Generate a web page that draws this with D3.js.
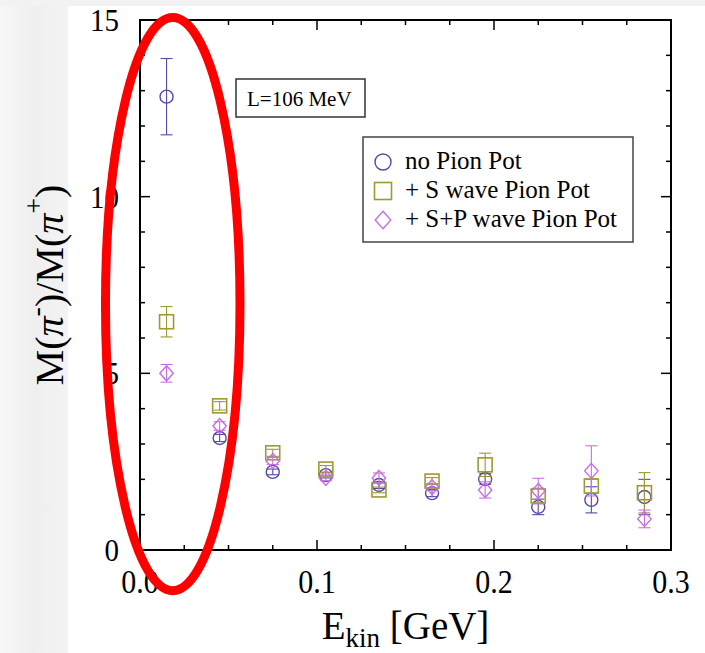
<!DOCTYPE html>
<html>
<head>
<meta charset="utf-8">
<script src="https://cdn.jsdelivr.net/npm/d3@7"></script>
<style>
  html, body { margin: 0; padding: 0; background: #fff; }
  svg { display: block; }
  svg text { font-family: "Liberation Serif", "Times New Roman", serif; }
</style>
</head>
<body>
<svg id="chart" width="705" height="653"></svg>
<script>
// Kinetic-energy bins (GeV)
const ekin = [0.015, 0.045, 0.075, 0.105, 0.135, 0.165, 0.195, 0.225, 0.255, 0.285];

// pi-/pi+ ratio without pion potential
const noPot     = [12.83, 3.17, 2.21, 2.12, 1.84, 1.61, 2.01, 1.22, 1.42, 1.50];
const noPotErr  = [1.08, 0.10, 0.08, 0.08, 0.10, 0.10, 0.15, 0.22, 0.37, 0.50];

// with S-wave pion potential
const sWave     = [6.46, 4.08, 2.75, 2.29, 1.70, 1.95, 2.41, 1.53, 1.81, 1.62];
const sWaveErr  = [0.43, 0.12, 0.10, 0.10, 0.08, 0.10, 0.33, 0.22, 0.20, 0.57];

// with S+P-wave pion potential
const spWave    = [5.00, 3.51, 2.52, 2.04, 2.04, 1.78, 1.70, 1.67, 2.24, 0.88];
const spWaveErr = [0.25, 0.12, 0.10, 0.08, 0.14, 0.10, 0.23, 0.36, 0.71, 0.25];

const seriesNames = ["no Pion Pot", "+ S wave Pion Pot", "+ S+P wave Pion Pot"];
const xTicks = [0.0, 0.1, 0.2, 0.3];
const xTickLabels = ["0.0", "0.1", "0.2", "0.3"];
const yTicks = [0, 5, 10, 15];
const yTickLabels = ["0", "5", "10", "15"];
const annotation = "L=106 MeV";

const series = [
  { name: seriesNames[0], vals: noPot,  errs: noPotErr,  shape: "circle",  color: "#564aa6" },
  { name: seriesNames[1], vals: sWave,  errs: sWaveErr,  shape: "square",  color: "#9c9a30" },
  { name: seriesNames[2], vals: spWave, errs: spWaveErr, shape: "diamond", color: "#c86ee4" }
];

const svg = d3.select("#chart");

// soft grey margins around the page
svg.append("rect").attr("x", 0).attr("y", 0).attr("width", 705).attr("height", 653).attr("fill", "#fff");
const grad = svg.append("defs").append("linearGradient").attr("id", "edge").attr("x1", 0).attr("x2", 1);
grad.append("stop").attr("offset", 0).attr("stop-color", "#f7f7f7");
grad.append("stop").attr("offset", 0.5).attr("stop-color", "#efefef");
grad.append("stop").attr("offset", 1).attr("stop-color", "#f3f3f3");
svg.append("rect").attr("x", 0).attr("y", 0).attr("width", 68).attr("height", 653).attr("fill", "url(#edge)");
svg.append("rect").attr("x", 0).attr("y", 0).attr("width", 705).attr("height", 6).attr("fill", "#f2f2f2");

const x = d3.scaleLinear().domain([0, 0.3]).range([140, 671]);
const y = d3.scaleLinear().domain([0, 15]).range([550, 20]);
const [x0, x1] = x.range();
const [y0, y1] = y.range();

// frame
svg.append("rect")
  .attr("x", x0).attr("y", y1).attr("width", x1 - x0).attr("height", y0 - y1)
  .attr("fill", "none").attr("stroke", "#000").attr("stroke-width", 2);

// inward ticks on all four sides
const xMinor = d3.range(0, 0.3001, 0.025);
const yMinor = d3.range(0, 15.001, 1);
const tickG = svg.append("g").attr("stroke", "#000").attr("stroke-width", 1.5);
function isMajor(v, step) { return Math.abs(v / step - Math.round(v / step)) < 1e-6; }
xMinor.forEach(v => {
  const len = isMajor(v, 0.1) ? 10 : 5;
  tickG.append("line").attr("x1", x(v)).attr("x2", x(v)).attr("y1", y0).attr("y2", y0 - len);
  tickG.append("line").attr("x1", x(v)).attr("x2", x(v)).attr("y1", y1).attr("y2", y1 + len);
});
yMinor.forEach(v => {
  const len = isMajor(v, 5) ? 10 : 5;
  tickG.append("line").attr("y1", y(v)).attr("y2", y(v)).attr("x1", x0).attr("x2", x0 + len);
  tickG.append("line").attr("y1", y(v)).attr("y2", y(v)).attr("x1", x1).attr("x2", x1 - len);
});

// tick labels (slightly tall lettering)
svg.append("g").selectAll("text").data(xTicks).join("text")
  .attr("transform", d => `translate(${x(d)},${y0 + 43}) scale(1,1.1)`)
  .attr("text-anchor", "middle").attr("font-size", 30)
  .text((d, i) => xTickLabels[i]);
svg.append("g").selectAll("text").data(yTicks).join("text")
  .attr("transform", d => `translate(${x0 - 21},${y(d)}) scale(1,1.1)`).attr("dy", "0.34em")
  .attr("text-anchor", "end").attr("font-size", 29)
  .text((d, i) => yTickLabels[i]);

// axis titles
const xt = svg.append("text").attr("x", (x0 + x1) / 2).attr("y", 639)
  .attr("text-anchor", "middle").attr("font-size", 39);
xt.append("tspan").text("E");
xt.append("tspan").attr("font-size", 27).attr("dy", 8).text("kin");
xt.append("tspan").attr("dy", -8).text(" [GeV]");

const yt = svg.append("text").attr("transform", "translate(63," + 285 + ") rotate(-90)")
  .attr("text-anchor", "middle").attr("font-size", 40);
yt.append("tspan").text("M(");
yt.append("tspan").attr("font-style", "italic").text("π");
yt.append("tspan").attr("font-size", 28).attr("dy", -18).text("-");
yt.append("tspan").attr("dy", 18).text(")/M(");
yt.append("tspan").attr("font-style", "italic").text("π");
yt.append("tspan").attr("font-size", 28).attr("dy", -20).text("+");
yt.append("tspan").attr("dy", 20).text(")");

// marker drawing
function marker(g, shape, cx, cy, s, color) {
  if (shape === "circle") {
    g.append("circle").attr("cx", cx).attr("cy", cy).attr("r", s)
      .attr("fill", "none").attr("stroke", color).attr("stroke-width", 1.4);
  } else if (shape === "square") {
    g.append("rect").attr("x", cx - s).attr("y", cy - s).attr("width", 2 * s).attr("height", 2 * s)
      .attr("fill", "none").attr("stroke", color).attr("stroke-width", 1.6);
  } else {
    const h = s * 1.12;
    g.append("path").attr("d", `M${cx},${cy - h}L${cx + s},${cy}L${cx},${cy + h}L${cx - s},${cy}Z`)
      .attr("fill", "none").attr("stroke", color).attr("stroke-width", 1.4);
  }
}
const sizes = { circle: 6.5, square: 7, diamond: 6.7 };

// data with error bars
series.forEach(s => {
  const g = svg.append("g");
  ekin.forEach((e, i) => {
    const cx = x(e), cy = y(s.vals[i]);
    const top = y(s.vals[i] + s.errs[i]), bot = y(s.vals[i] - s.errs[i]);
    g.append("line").attr("x1", cx).attr("x2", cx).attr("y1", top).attr("y2", bot)
      .attr("stroke", s.color).attr("stroke-width", 1.1);
    [top, bot].forEach(yy => g.append("line").attr("x1", cx - 6).attr("x2", cx + 6)
      .attr("y1", yy).attr("y2", yy).attr("stroke", s.color).attr("stroke-width", 1.1));
    marker(g, s.shape, cx, cy, sizes[s.shape], s.color);
  });
});

// annotation box
svg.append("rect").attr("x", 236).attr("y", 79).attr("width", 129).attr("height", 38)
  .attr("fill", "#fff").attr("stroke", "#333").attr("stroke-width", 1.5);
svg.append("text").attr("x", 247).attr("y", 106).attr("font-size", 21).text(annotation);

// legend
const lg = svg.append("g");
lg.append("rect").attr("x", 363).attr("y", 137).attr("width", 270).attr("height", 105)
  .attr("fill", "#fff").attr("stroke", "#444").attr("stroke-width", 1.5);
const legendSizes = { circle: 8, square: 8.5, diamond: 7.8 };
series.forEach((s, i) => {
  const cy = 162 + i * 29;
  marker(lg, s.shape, 383, cy, legendSizes[s.shape], s.color);
  lg.append("text").attr("x", 405).attr("y", cy + 7).attr("font-size", 25).text(s.name);
});

// highlight ring around the lowest-energy bins
svg.append("ellipse")
  .attr("cx", x(0.0185)).attr("cy", y(6.96))
  .attr("rx", x(0.038) - x(0)).attr("ry", y(0) - y(8.11))
  .attr("fill", "none").attr("stroke", "#ff0000").attr("stroke-width", 9);
</script>
</body>
</html>
